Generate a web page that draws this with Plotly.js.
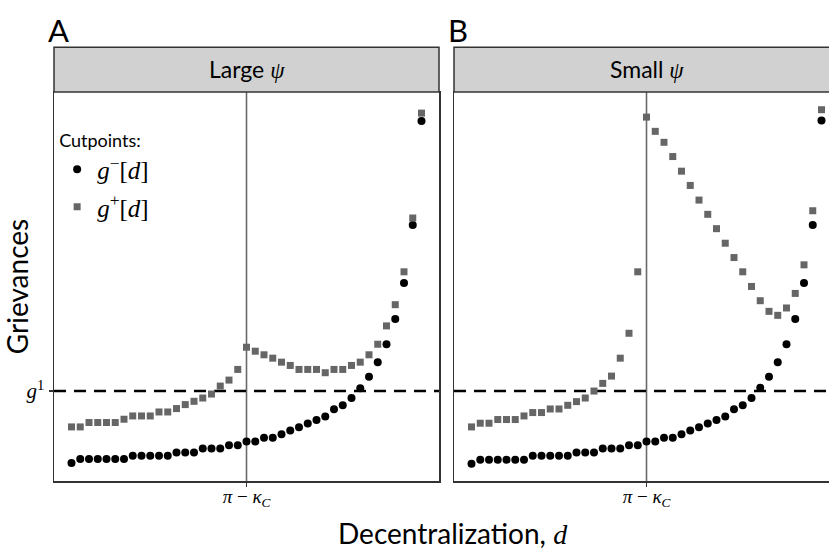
<!DOCTYPE html>
<html>
<head>
<meta charset="utf-8">
<script src="https://cdn.plot.ly/plotly-3.0.1.min.js"></script>
<style>
html,body{margin:0;padding:0;overflow:hidden;background:#fff;}
#chart{width:840px;height:557px;}
</style>
</head>
<body>
<div id="chart"></div>
<script>
// Decentralization index (x positions of the points)
const decentralization = [0,1,2,3,4,5,6,7,8,9,10,11,12,13,14,15,16,17,18,19,20,21,22,23,24,25,26,27,28,29,30,31,32,33,34,35,36,37,38,39,40];
// critical decentralization pi - kappa_C
const kappaLine = 20;
// grievance threshold g^1
const g1Level = 88.3;

// Panel A: Large psi
const gMinusLarge = [16.0,20.0,20.0,20.0,20.0,20.0,20.0,23.3,23.3,23.3,23.3,23.3,26.7,26.7,26.7,30.7,30.7,30.7,34.0,34.0,37.7,37.7,41.3,41.3,45.0,48.7,52.0,55.7,59.3,62.7,70.0,74.0,81.3,91.0,102.7,117.3,135.3,160.7,196.7,255.0,359.3];
const gPlusLarge  = [52.3,52.3,56.7,56.7,56.7,56.7,60.0,63.3,63.3,63.3,67.3,67.3,70.7,74.7,78.0,81.3,85.3,93.3,99.3,110.0,132.3,128.3,124.7,121.3,117.3,114.0,110.0,110.0,110.0,106.7,110.0,110.0,114.0,117.3,124.7,135.3,153.7,175.0,208.0,262.0,367.3];

// Panel B: Small psi
const gMinusSmall = [15.3,19.3,19.3,19.3,19.3,19.3,19.3,23.3,23.3,23.3,23.3,23.3,26.7,26.7,26.7,30.7,30.7,30.7,34.0,34.0,37.7,37.7,41.3,41.3,45.0,48.7,52.0,55.7,59.3,62.7,70.0,74.0,81.3,91.7,102.7,117.3,135.3,160.7,196.7,255.0,360.0];
const gPlusSmall  = [52.3,56.0,56.0,59.7,59.7,59.7,63.3,66.7,66.7,70.3,70.3,74.0,77.7,81.3,88.3,96.0,103.3,121.3,146.3,208.0,363.3,349.0,338.0,323.7,309.0,294.7,280.0,265.7,251.3,236.7,222.3,208.0,193.3,179.0,168.3,164.3,171.7,186.3,215.0,269.3,370.7];

const panelLetters = ["A","B"];
const panelTitles = ["Large","Small"];
const xTickText = '<i>π</i> − <i>κ</i><sub><i>C</i></sub>';
const yTickText = '<i>g</i><sup>1</sup>';

const SANS = "Lato, 'DejaVu Sans', sans-serif";
const SERIF = "'Liberation Serif', serif";

const blackMarker = {color:'#000000', size:8, symbol:'circle'};
const grayMarker = {color:'#666666', size:7, symbol:'square'};

const traces = [
  {x:decentralization, y:gMinusLarge, xaxis:'x', yaxis:'y', mode:'markers', type:'scatter', marker:blackMarker,
   name:'<i>g</i><sup>−</sup>[<i>d</i>]', legendgroup:'a', showlegend:true},
  {x:decentralization, y:gPlusLarge, xaxis:'x', yaxis:'y', mode:'markers', type:'scatter', marker:grayMarker,
   name:'<i>g</i><sup>+</sup>[<i>d</i>]', legendgroup:'b', showlegend:true},
  {x:decentralization, y:gMinusSmall, xaxis:'x2', yaxis:'y2', mode:'markers', type:'scatter', marker:blackMarker,
   name:'g-', legendgroup:'a', showlegend:false},
  {x:decentralization, y:gPlusSmall, xaxis:'x2', yaxis:'y2', mode:'markers', type:'scatter', marker:grayMarker,
   name:'g+', legendgroup:'b', showlegend:false}
];

const axisCommon = {
  showgrid:false, zeroline:false, showline:true, mirror:true,
  linecolor:'#333333', linewidth:1.5,
  ticks:'outside', ticklen:4, tickcolor:'#333333', tickwidth:1.5
};
const xRange = [-2, 42];
const yRange = [-2, 388.5];

const layout = {
  width:840, height:557,
  margin:{l:54, r:1, t:92, b:76},
  paper_bgcolor:'#ffffff', plot_bgcolor:'#ffffff',
  font:{family:SANS, color:'#000000'},
  xaxis:Object.assign({}, axisCommon, {domain:[0, 385/785], range:xRange, tickvals:[kappaLine], ticktext:[xTickText], ticklabelstandoff:-6, tickfont:{family:SERIF, size:19, color:'#000'}}),
  xaxis2:Object.assign({}, axisCommon, {domain:[400/785, 1], range:xRange, tickvals:[kappaLine], ticktext:[xTickText], ticklabelstandoff:-6, tickfont:{family:SERIF, size:19, color:'#000'}}),
  yaxis:Object.assign({}, axisCommon, {domain:[0,1], range:yRange, tickvals:[g1Level], ticktext:[yTickText], tickfont:{family:SERIF, size:21, color:'#000'},
    title:{text:'Grievances', font:{family:SANS, size:28, color:'#000'}, standoff:2}}),
  yaxis2:Object.assign({}, axisCommon, {domain:[0,1], range:yRange, anchor:'x2', tickvals:[], showticklabels:false}),
  showlegend:true,
  legend:{
    x:0.004, y:0.92, xanchor:'left', yanchor:'top',
    bgcolor:'rgba(0,0,0,0)',
    title:{text:'Cutpoints:', font:{family:SANS, size:18, color:'#000'}},
    font:{family:SERIF, size:25, color:'#000'},
    itemwidth:30,
    traceorder:'grouped', tracegroupgap:2
  },
  shapes:[],
  annotations:[]
};
layout.xaxis2.anchor = 'y2';
layout.yaxis2.anchor = 'x2';

const axSuffix = ['', '2'];
for (let p = 0; p < 2; p++) {
  const xr = 'x' + axSuffix[p];
  const yr = 'y' + axSuffix[p];
  // strip header
  layout.shapes.push({type:'rect', xref:xr+' domain', yref:yr+' domain', x0:0, x1:1, y0:1, y1:1.115,
    fillcolor:'#d1d1d1', line:{color:'#333333', width:1.5}, layer:'above'});
  // vertical line at pi - kappa_C
  layout.shapes.push({type:'line', xref:xr, yref:yr+' domain', x0:kappaLine, x1:kappaLine, y0:0, y1:1,
    line:{color:'#6a6a6a', width:1.6}, layer:'below'});
  // horizontal dashed line at g^1
  layout.shapes.push({type:'line', xref:xr+' domain', yref:yr, x0:0, x1:1, y0:g1Level, y1:g1Level,
    line:{color:'#000000', width:2.4, dash:'12px,8px'}, layer:'below'});
  // strip text
  layout.annotations.push({xref:xr+' domain', yref:yr+' domain', x:0.5, y:1.058, xanchor:'center', yanchor:'middle',
    showarrow:false, text:panelTitles[p] + ' <span style="font-family:\'Liberation Serif\'"><i>ψ</i></span>',
    font:{family:SANS, size:23, color:'#000'}});
  // panel letter
  layout.annotations.push({xref:xr+' domain', yref:'paper', x:-0.022, y:1.16, xanchor:'left', yanchor:'middle',
    showarrow:false, text:panelLetters[p], font:{family:SANS, size:31, color:'#000'}});
}
// shared x title
layout.annotations.push({xref:'paper', yref:'paper', x:(453-54)/785, y:(481-533)/389, xanchor:'center', yanchor:'middle',
  showarrow:false, text:'Decentralization, <span style="font-family:\'Liberation Serif\'"><i>d</i></span>',
  font:{family:SANS, size:28, color:'#000'}});

Plotly.newPlot('chart', traces, layout, {displayModeBar:false, staticPlot:true});
</script>
</body>
</html>
